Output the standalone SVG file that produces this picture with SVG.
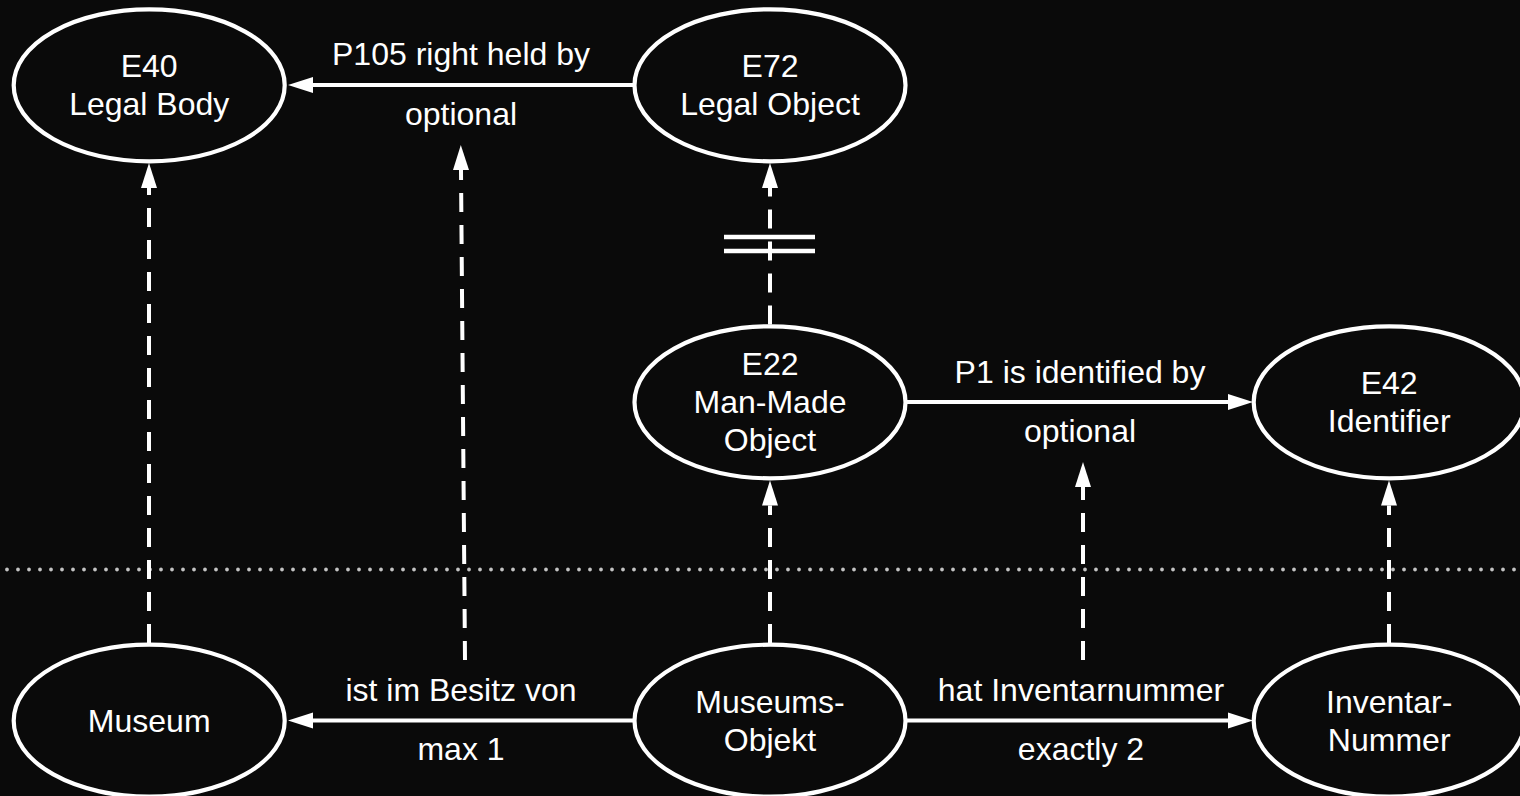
<svg xmlns="http://www.w3.org/2000/svg" width="1520" height="796" viewBox="0 0 1520 796">
  <defs>
    <marker id="arrow" markerWidth="26" markerHeight="18" refX="0" refY="9" orient="auto" markerUnits="userSpaceOnUse">
      <path d="M0,1 L25,9 L0,17 z" fill="#ffffff"/>
    </marker>
    <style>
      .node ellipse { fill: #0a0a0a; stroke: #ffffff; stroke-width: 4.2; }
      text { font-family: "Liberation Sans", Arial, sans-serif; font-size: 32px; fill: #ffffff; text-anchor: middle; }
      .edge { stroke: #ffffff; stroke-width: 4; fill: none; marker-end: url(#arrow); }
      .dashed { stroke-dasharray: 19 13; }
      .bar { stroke: #ffffff; stroke-width: 4.5; }
      .divider { stroke: #c4c4c4; stroke-width: 3.8; stroke-linecap: round; stroke-dasharray: 0 11; }
    </style>
  </defs>

  <rect width="1520" height="796" fill="#0a0a0a"/>

  <!-- layer boundary between ontology classes (top) and application terms (bottom) -->
  <line class="divider" x1="7" y1="569.5" x2="1520" y2="569.5"/>

  <g id="connectors">
    <!-- object properties -->
    <line class="edge" x1="633" y1="85" x2="313" y2="85"/>
    <line class="edge" x1="907" y1="402" x2="1228" y2="402"/>
    <line class="edge" x1="633" y1="720.5" x2="313" y2="720.5"/>
    <line class="edge" x1="907" y1="720.5" x2="1228" y2="720.5"/>
    <!-- mappings / subclass links -->
    <line class="edge dashed" x1="149" y1="643" x2="149" y2="188"/>
    <line class="edge dashed" x1="770" y1="643" x2="770" y2="505.5"/>
    <line class="edge dashed" x1="1389" y1="643" x2="1389" y2="505.5"/>
    <line class="edge dashed" x1="770" y1="324.5" x2="770" y2="188"/>
    <line class="edge dashed" x1="465" y1="660" x2="461" y2="170"/>
    <line class="edge dashed" x1="1083" y1="660" x2="1083" y2="487"/>
    <!-- disjointness mark -->
    <line class="bar" x1="724" y1="237" x2="815" y2="237"/>
    <line class="bar" x1="724" y1="251" x2="815" y2="251"/>
    <!-- edge labels -->
    <text x="461" y="65">P105 right held by</text>
    <text x="461" y="125">optional</text>
    <text x="1080" y="383">P1 is identified by</text>
    <text x="1080" y="442">optional</text>
    <text x="461" y="701">ist im Besitz von</text>
    <text x="461" y="760">max 1</text>
    <text x="1081" y="701">hat Inventarnummer</text>
    <text x="1081" y="760">exactly 2</text>
  </g>

  <g id="e40" class="node">
    <ellipse cx="149.2" cy="85.3" rx="135.5" ry="76"/>
    <text x="149.2" y="77">E40</text>
    <text x="149.2" y="115">Legal Body</text>
  </g>
  <g id="e72" class="node">
    <ellipse cx="770" cy="85.3" rx="135.5" ry="76"/>
    <text x="770" y="77">E72</text>
    <text x="770" y="115">Legal Object</text>
  </g>
  <g id="e22" class="node">
    <ellipse cx="770" cy="402.3" rx="135.5" ry="76"/>
    <text x="770" y="375">E22</text>
    <text x="770" y="413">Man-Made</text>
    <text x="770" y="451">Object</text>
  </g>
  <g id="e42" class="node">
    <ellipse cx="1389.2" cy="402.3" rx="135.5" ry="76"/>
    <text x="1389.2" y="394">E42</text>
    <text x="1389.2" y="432">Identifier</text>
  </g>
  <g id="museum" class="node">
    <ellipse cx="149.2" cy="720.7" rx="135.5" ry="76"/>
    <text x="149.2" y="732">Museum</text>
  </g>
  <g id="museumsobjekt" class="node">
    <ellipse cx="770" cy="720.7" rx="135.5" ry="76"/>
    <text x="770" y="713">Museums-</text>
    <text x="770" y="751">Objekt</text>
  </g>
  <g id="inventarnummer" class="node">
    <ellipse cx="1389.2" cy="720.7" rx="135.5" ry="76"/>
    <text x="1389.2" y="713">Inventar-</text>
    <text x="1389.2" y="751">Nummer</text>
  </g>
</svg>
